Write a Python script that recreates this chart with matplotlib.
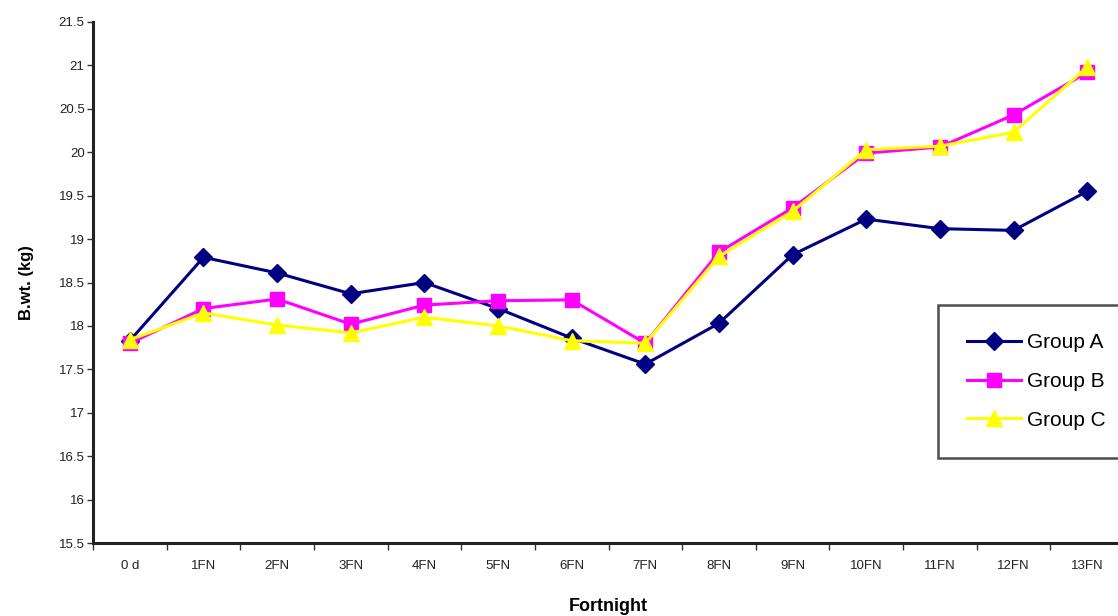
import matplotlib
matplotlib.use("Agg")
import matplotlib.pyplot as plt
import numpy as np

plt.rcParams['font.family'] = ['Liberation Sans', 'DejaVu Sans']

periods = ["0 d", "1FN", "2FN", "3FN", "4FN", "5FN", "6FN",
           "7FN", "8FN", "9FN", "10FN", "11FN", "12FN", "13FN"]

group_a = [17.83, 18.79, 18.61, 18.37, 18.50, 18.20, 17.86,
           17.56, 18.03, 18.82, 19.23, 19.12, 19.10, 19.55]
group_b = [17.80, 18.20, 18.31, 18.02, 18.24, 18.29, 18.30,
           17.80, 18.85, 19.36, 19.99, 20.06, 20.43, 20.92]
group_c = [17.84, 18.15, 18.01, 17.92, 18.10, 18.00, 17.83,
           17.80, 18.80, 19.32, 20.03, 20.07, 20.23, 20.98]

y_ticks = [15.5, 16, 16.5, 17, 17.5, 18, 18.5, 19, 19.5, 20, 20.5, 21, 21.5]

fig = plt.figure(figsize=(11.18, 6.16), dpi=100)
ax = fig.add_axes([93 / 1118, 73 / 616, 1031 / 1118, 521 / 616])

x = np.arange(len(periods))
ax.plot(x, group_a, color="#000080", marker="D", markersize=9, linewidth=2.2,
        label="Group A")
ax.plot(x, group_b, color="#FF00FF", marker="s", markersize=10, linewidth=2.2,
        label="Group B")
ax.plot(x, group_c, color="#FFFF00", marker="^", markersize=11, linewidth=2.2,
        label="Group C")

ax.set_xlim(-0.5, len(periods) - 0.5)
ax.set_ylim(15.5, 21.5)

ax.set_yticks(y_ticks)
ax.set_yticklabels([f"{v:g}" for v in y_ticks], fontsize=9.5, color="#222222")
ax.tick_params(axis="y", direction="out", length=4, width=1, color="#333333", pad=2)

ax.set_xticks(x)
ax.set_xticklabels(periods, fontsize=9.5, color="#222222")
ax.set_xticks(np.arange(-0.5, len(periods), 1.0), minor=True)
ax.tick_params(axis="x", which="major", length=0, pad=12)
ax.tick_params(axis="x", which="minor", direction="out", length=5, width=1,
               color="#333333")

for side in ("top", "right"):
    ax.spines[side].set_visible(False)
for side in ("left", "bottom"):
    ax.spines[side].set_linewidth(2.2)
    ax.spines[side].set_color("#222222")

ax.set_ylabel("B.wt. (kg)", fontsize=12, fontweight="bold", labelpad=18)
ax.set_xlabel("Fortnight", fontsize=13, fontweight="bold", labelpad=19)

leg = ax.legend(loc="upper left", bbox_to_anchor=(0.82, 0.457), fontsize=15,
                frameon=True, fancybox=False, edgecolor="#222222",
                handlelength=2.6, borderpad=1.35, labelspacing=0.95,
                handletextpad=0.3, borderaxespad=0)
leg.get_frame().set_linewidth(1.8)

fig.savefig("out.png", dpi=100)
